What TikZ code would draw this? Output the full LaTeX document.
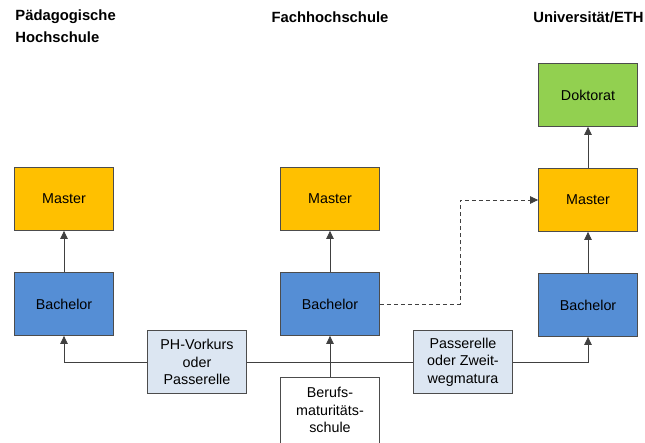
\documentclass[tikz,border=0pt]{standalone}
\usepackage{fontspec}
\setmainfont{Liberation Sans}
\usetikzlibrary{arrows.meta}
\definecolor{gelb}{HTML}{FFC000}
\definecolor{blau}{HTML}{558ED5}
\definecolor{gruen}{HTML}{92D050}
\definecolor{grau}{HTML}{DCE6F2}
\begin{document}
\begin{tikzpicture}
  [x=1pt,y=-1pt,font=\fontsize{14.3}{17.5}\selectfont,
   every node/.style={rectangle,draw=black!70,thick,minimum width=99pt,minimum height=63pt,align=center,inner sep=1pt}]
  \tikzstyle{titel} = [draw=none,minimum width=0pt,minimum height=0pt,font=\fontsize{14.8}{22}\selectfont\bfseries]
  \tikzstyle{pfeil} = [draw=black!75,thick,-{Triangle[length=8pt,width=7.5pt]}]
  \useasboundingbox (0,0) rectangle (645,443);
  % Kopfzeile
  \node[titel,align=left,anchor=north west] (ph) at (14,8) {Pädagogische\\Hochschule};
  \node[titel] (fh) at (330,17) {Fachhochschule};
  \node[titel,anchor=east] (uni) at (645,17) {Universität/ETH};
  % Stufen
  \node[fill=gelb] (m1) at (64,199)  {Master};
  \node[fill=blau] (b1) at (64,304)  {Bachelor};
  \node[fill=gelb] (m2) at (330,199) {Master};
  \node[fill=blau] (b2) at (330,304) {Bachelor};
  \node[fill=gruen] (dr) at (588,95) {Doktorat};
  \node[fill=gelb] (m3) at (588,200) {Master};
  \node[fill=blau] (b3) at (588,305) {Bachelor};
  % Zugaenge
  \node[fill=grau] (vk) at (197,362) {PH-Vorkurs\\oder\\Passerelle};
  \node[fill=grau] (zw) at (463,362) {Passerelle\\oder Zweit-\\wegmatura};
  \node[fill=white,minimum height=66pt] (bm) at (330,410) {Berufs-\\maturitäts-\\schule};
  \foreach \source /\dest in {b1/m1,b2/m2,b3/m3,m3/dr,bm/b2}
   \draw[pfeil] (\source) -- (\dest);
  \draw[pfeil] (vk) -| (b1);
  \draw[pfeil] (zw) -| (b3);
  \draw[thick,draw=black!75] (vk) -- (zw);
  \draw[pfeil,dash pattern=on 4pt off 3pt] (b2.east) -| (460,250) |- (m3.west);
\end{tikzpicture}
\end{document}
